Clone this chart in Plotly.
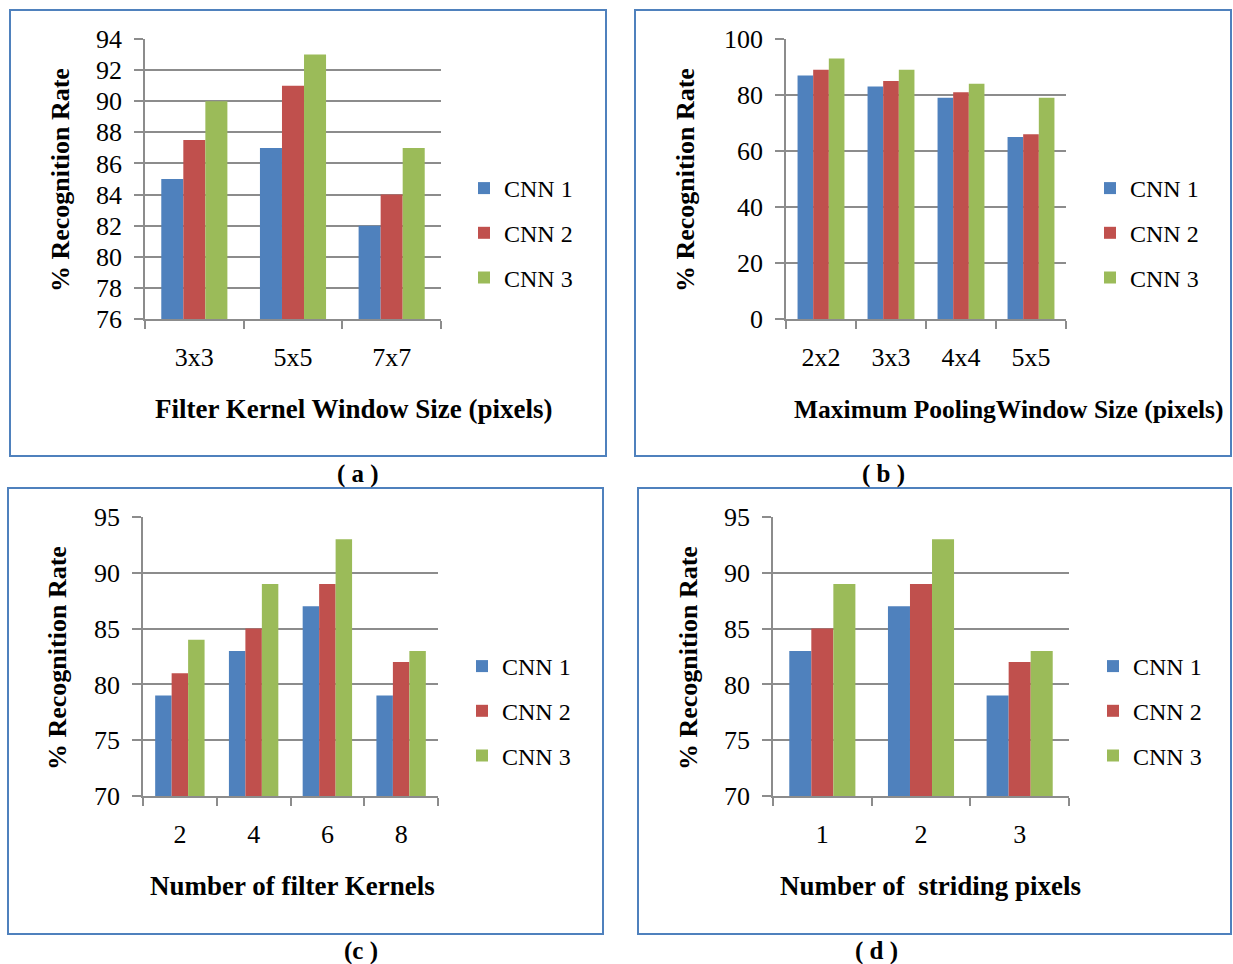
import plotly.graph_objects as go

# ---------------- data ----------------
series_names = ["CNN 1", "CNN 2", "CNN 3"]
series_colors = ["#4F81BD", "#C0504D", "#9BBB59"]

a_cats = ["3x3", "5x5", "7x7"]
a_cnn1 = [85, 87, 82]
a_cnn2 = [87.5, 91, 84]
a_cnn3 = [90, 93, 87]

b_cats = ["2x2", "3x3", "4x4", "5x5"]
b_cnn1 = [87, 83, 79, 65]
b_cnn2 = [89, 85, 81, 66]
b_cnn3 = [93, 89, 84, 79]

c_cats = ["2", "4", "6", "8"]
c_cnn1 = [79, 83, 87, 79]
c_cnn2 = [81, 85, 89, 82]
c_cnn3 = [84, 89, 93, 83]

d_cats = ["1", "2", "3"]
d_cnn1 = [83, 87, 79]
d_cnn2 = [85, 89, 82]
d_cnn3 = [89, 93, 83]

x_titles = ["Filter Kernel Window Size (pixels)",
            "Maximum PoolingWindow Size (pixels)",
            "Number of filter Kernels",
            "Number of  striding pixels"]
y_title = "% Recognition Rate"
captions = ["( a )", "( b )", "(c )", "( d )"]

# ---------------- layout helpers ----------------
W, H = 1233, 964
FONT = "Liberation Serif, Times New Roman, serif"


def px(x):
    return x / W


def py(y):
    return 1 - y / H


panels = [
    dict(cats=a_cats, vals=[a_cnn1, a_cnn2, a_cnn3], yr=[76, 94], dt=2,
         plot=(145, 441, 39, 319), legend=(464, 166), xfs=27,
         xt=(153, 409), yt=(60, 180), cap=(358, 474), box=(10, 606, 10, 456)),
    dict(cats=b_cats, vals=[b_cnn1, b_cnn2, b_cnn3], yr=[0, 100], dt=20,
         plot=(786, 1066, 39, 319), legend=(1090, 166), xfs=25.5,
         xt=(792, 409), yt=(685, 180), cap=(883, 474), box=(635, 1231, 10, 456)),
    dict(cats=c_cats, vals=[c_cnn1, c_cnn2, c_cnn3], yr=[70, 95], dt=5,
         plot=(143, 438, 517, 796), legend=(462, 644), xfs=27,
         xt=(148, 886), yt=(57, 658), cap=(361, 951), box=(8, 603, 488, 934)),
    dict(cats=d_cats, vals=[d_cnn1, d_cnn2, d_cnn3], yr=[70, 95], dt=5,
         plot=(773, 1069, 517, 796), legend=(1093, 644), xfs=27,
         xt=(778, 886), yt=(688, 658), cap=(876, 951), box=(638, 1231, 488, 934)),
]

fig = go.Figure()
layout = dict(
    width=W, height=H,
    margin=dict(l=0, r=0, t=0, b=0, pad=0, autoexpand=False),
    paper_bgcolor="white", plot_bgcolor="white",
    barmode="group", bargap=0.33, bargroupgap=0,
    showlegend=True, font=dict(family=FONT, color="black"),
)
annotations = []
shapes = []

for i, p in enumerate(panels):
    n = "" if i == 0 else str(i + 1)
    xa, ya = "x" + n, "y" + n
    leg = "legend" + n
    for s in range(3):
        fig.add_trace(go.Bar(
            x=p["cats"], y=p["vals"][s], name=series_names[s],
            marker=dict(color=series_colors[s], line=dict(width=0)),
            xaxis=xa, yaxis=ya, legend=leg, legendgroup=f"{i}-{s}",
            hoverinfo="x+y+name",
        ))
    x0, x1, y0, y1 = p["plot"]
    layout["xaxis" + n] = dict(
        domain=[px(x0), px(x1)], anchor=ya, type="category",
        showline=True, linecolor="#8C8C8C", linewidth=1.5,
        ticks="outside", tickson="boundaries", ticklen=8, tickcolor="#8C8C8C",
        tickwidth=1.5, showgrid=False, ticklabelstandoff=14,
        tickfont=dict(family=FONT, size=26, color="black"), fixedrange=True,
    )
    layout["yaxis" + n] = dict(
        domain=[py(y1), py(y0)], anchor=xa, range=p["yr"], dtick=p["dt"],
        tick0=p["yr"][0], showline=True, linecolor="#8C8C8C", linewidth=1.5,
        showgrid=True, gridcolor="#8C8C8C", gridwidth=1.5, zeroline=False,
        ticks="outside", ticklen=9, tickcolor="#8C8C8C", tickwidth=1.5,
        ticklabelstandoff=7,
        tickfont=dict(family=FONT, size=26, color="black"), fixedrange=True,
    )
    lx, ly = p["legend"]
    layout[leg] = dict(
        x=px(lx), y=py(ly), xanchor="left", yanchor="top",
        xref="paper", yref="paper", bgcolor="rgba(0,0,0,0)",
        font=dict(family=FONT, size=24, color="black"),
        traceorder="grouped", tracegroupgap=10.5, itemwidth=30,
        itemclick=False, itemdoubleclick=False,
    )
    tx, ty = p["xt"]
    annotations.append(dict(
        text=f"<b>{x_titles[i]}</b>", x=px(tx), y=py(ty), xref="paper",
        yref="paper", xanchor="left", yanchor="middle", showarrow=False,
        font=dict(family=FONT, size=p["xfs"], color="black"),
    ))
    yx, yy = p["yt"]
    annotations.append(dict(
        text=f"<b>{y_title}</b>", x=px(yx), y=py(yy), xref="paper",
        yref="paper", xanchor="center", yanchor="middle", showarrow=False,
        textangle=-90, font=dict(family=FONT, size=26, color="black"),
    ))
    cx, cy = p["cap"]
    annotations.append(dict(
        text=f"<b>{captions[i]}</b>", x=px(cx), y=py(cy), xref="paper",
        yref="paper", xanchor="center", yanchor="middle", showarrow=False,
        font=dict(family=FONT, size=25, color="black"),
    ))
    bx0, bx1, by0, by1 = p["box"]
    shapes.append(dict(
        type="rect", xref="paper", yref="paper",
        x0=px(bx0), x1=px(bx1), y0=py(by1), y1=py(by0),
        line=dict(color="#4F81BD", width=2), fillcolor="rgba(0,0,0,0)",
        layer="below",
    ))

layout["annotations"] = annotations
layout["shapes"] = shapes
fig.update_layout(**layout)
fig.write_html(
    "out.html",
    config={"displayModeBar": False, "staticPlot": False},
    post_script="document.body.style.margin='0';document.body.style.overflow='hidden';",
)
